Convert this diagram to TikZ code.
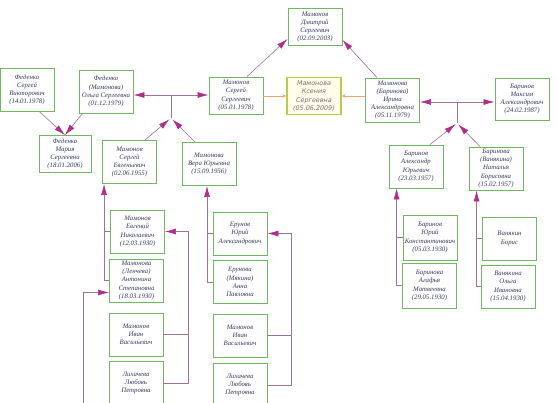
\documentclass[tikz,border=0pt]{standalone}
\usepackage{fontspec}
\setmainfont{Liberation Serif}
\newfontfamily\handfont{DejaVu Sans}
\usepackage{tikz}
\usetikzlibrary{arrows.meta}
\definecolor{boxgreen}{RGB}{110,185,95}
\definecolor{tipmag}{RGB}{175,45,140}
\definecolor{linepurp}{RGB}{160,115,150}
\definecolor{lineorange}{RGB}{235,165,115}
\definecolor{txtblue}{RGB}{55,58,95}
\definecolor{kseniabox}{RGB}{185,205,70}
\tikzstyle{person}=[draw=boxgreen, line width=0.9pt, fill=white, minimum width=54pt, minimum height=43pt, inner sep=1pt, align=center, text=txtblue, font=\fontsize{6.8}{8.2}\selectfont\itshape]
\tikzstyle{small}=[minimum height=37pt]
\tikzstyle{ksenia}=[draw=kseniabox, line width=1.4pt, fill=yellow!8, text=black!55, font=\handfont\fontsize{6.4}{8.2}\selectfont\itshape]
\tikzstyle{arrow}=[draw=linepurp, line width=0.6pt, -{Latex[length=11pt,width=6pt,color=tipmag]}]
\tikzstyle{link}=[draw=linepurp, line width=0.6pt]
\tikzstyle{arrowk}=[draw=lineorange, line width=0.6pt, -{Stealth[length=4pt,width=3.5pt]}]

\begin{document}
\begin{tikzpicture}[x=1pt,y=-1pt]
\useasboundingbox (0,0) rectangle (558,403);
\fill[white] (0,0) rectangle (558,403);

% top rows
\node[person] (fsv) at (27,90) {Феденко\\Сергей\\Викторович\\(14.01.1978)};
\node[person] (olga) at (106,91.5) {Феденко\\(Мамонова)\\Ольга Сергеевна\\(01.12.1979)};
\node[person, small, minimum width=52pt] (maria) at (65,154) {Феденко\\Мария\\Сергеевна\\(18.01.2006)};
\node[person, small] (sss) at (236,95.5) {Мамонов\\Сергей\\Сергеевич\\(05.01.1978)};
\node[person, small] (dmitry) at (315,27) {Мамонов\\Дмитрий\\Сергеевич\\(02.09.2003)};
\node[person, small, ksenia] (kse) at (314,96) {Мамонова\\Ксения\\Сергеевна\\(05.06.2009)};
\node[person, minimum height=44pt] (irina) at (392.5,100) {Мамонова\\(Баринова)\\Ирина\\Александровна\\(05.11.1979)};
\node[person, minimum height=42pt] (maksim) at (522,99) {Баринов\\Максим\\Александрович\\(24.02.1987)};

% parents
\node[person] (sev) at (129.5,162) {Мамонов\\Сергей\\Евгеньевич\\(02.06.1955)};
\node[person] (vera) at (209,164) {Мамонова\\Вера Юрьевна\\(15.09.1956)};
\node[person] (aleks) at (416,166.5) {Баринов\\Александр\\Юрьевич\\(23.03.1957)};
\node[person] (natalia) at (496,168.5) {Баринова\\(Ванякина)\\Наталья\\Борисовна\\(15.02.1957)};

% grandparents
\node[person] (evgeny) at (137.5,231.5) {Мамонов\\Евгений\\Николаевич\\(12.03.1930)};
\node[person] (anton) at (136.5,280.5) {Мамонова\\(Ленчева)\\Антонина\\Степановна\\(18.03.1930)};
\node[person] (ivan1) at (136,334.5) {Мамонов\\Иван\\Васильевич};
\node[person] (lyub1) at (136,383) {Лихачева\\Любовь\\Петровна};
\node[person] (yurie) at (240,233.5) {Ерунов\\Юрий\\Александрович};
\node[person] (anna) at (240,282) {Ерунова\\(Мякина)\\Анна\\Павловна};
\node[person] (ivan2) at (240,335.5) {Мамонов\\Иван\\Васильевич};
\node[person] (lyub2) at (240,385) {Лихачева\\Любовь\\Петровна};
\node[person, minimum height=45pt] (yurib) at (430,237.5) {Баринов\\Юрий\\Константинович\\(05.03.1930)};
\node[person, minimum height=45pt] (agafya) at (429.5,285.5) {Баринова\\Агафья\\Матвеевна\\(29.05.1930)};
\node[person] (boris) at (509.5,238.5) {Ванякин\\Борис};
\node[person] (olgav) at (508,286.5) {Ванякина\\Ольга\\Ивановна\\(15.04.1930)};

% Fedenko
\draw[arrow] (fsv.-60) -- (maria.north);
\draw[arrow] ([xshift=4pt]olga.south west) -- (maria.north);

% siblings, left
\coordinate (j1t) at (171,95);
\coordinate (j1) at (171,118);
\draw[arrow] (j1t) -- (j1t -| olga.east);
\draw[arrow] (j1t) -- (j1t -| sss.west);
\draw[link] (j1t) -- (j1);
\draw[arrow, shorten >=2pt] ([xshift=15.5pt]sev.north) -- (j1);
\draw[arrow, shorten >=2pt] ([xshift=-14pt]vera.north) -- (j1);

% siblings, right
\coordinate (j2t) at (457,102);
\coordinate (j2) at (457,123);
\draw[arrow] (j2t) -- (j2t -| irina.east);
\draw[arrow] (j2t) -- (j2t -| maksim.west);
\draw[link] (j2t) -- (j2);
\draw[arrow, shorten >=2pt] ([xshift=14pt]aleks.north) -- (j2);
\draw[arrow, shorten >=2pt] ([xshift=-16pt]natalia.north) -- (j2);

% Dmitry, Ksenia
\draw[arrow] ([xshift=11pt]sss.north) -- ([yshift=7pt]dmitry.south west);
\draw[arrow] ([xshift=-15.5pt]irina.north) -- ([yshift=6pt]dmitry.south east);
\draw[arrowk] (sss.east |- kse.west) -- (kse.west);
\draw[arrowk] (irina.west |- kse.east) -- (kse.east);

% up to the parents
\coordinate (s1) at ([xshift=2pt]sev.south west);
\coordinate (v1) at ([xshift=-2pt]vera.south);
\coordinate (a1) at ([xshift=8pt]aleks.south west);
\coordinate (n1) at ([xshift=8pt]natalia.south west);
\draw[arrow] (anton.west) -| (s1);
\draw[arrow] (anna.west) -| (v1);
\draw[arrow] (agafya.west) -| (a1);
\draw[arrow] (olgav.west) -| (n1);
\foreach \p/\c in {evgeny/s1, yurie/v1, yurib/a1, boris/n1}
\draw[link] (\p.west) -- (\p.west -| \c);

% lower pairs
\coordinate (m1) at ([xshift=23pt]evgeny.east);
\coordinate (m2) at ([xshift=24pt]yurie.east);
\draw[arrow] (lyub1.east) -| (m1) -- (evgeny.east);
\draw[arrow] (lyub2.east) -| (m2) -- (yurie.east);
\draw[link] (ivan1.east) -- (ivan1.east -| m1);
\draw[link] (ivan2.east) -- (ivan2.east -| m2);
\coordinate (a0) at (83,403);
\draw[arrow] (a0) |- ([yshift=-12pt]anton.west);
\end{tikzpicture}
\end{document}
